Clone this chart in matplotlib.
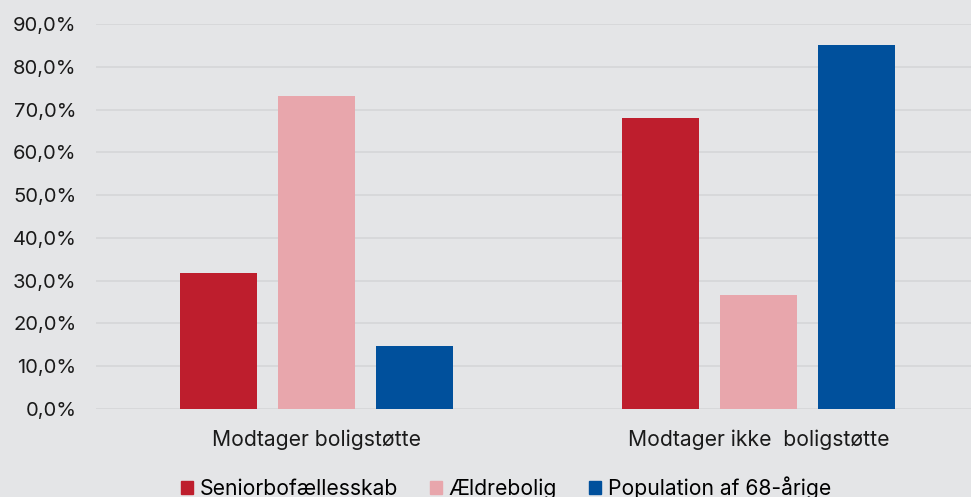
import numpy as np
import matplotlib
matplotlib.use("Agg")
import matplotlib.pyplot as plt
from matplotlib.ticker import FuncFormatter
from matplotlib.patches import Patch

categories = ["Modtager boligstøtte", "Modtager ikke  boligstøtte"]
series_names = ["Seniorbofællesskab", "Ældrebolig", "Population af 68-årige"]
senior = [31.8, 68.1]
aeldre = [73.1, 26.7]
population = [14.7, 85.2]
colors = ["#be1e2d", "#e8a6ac", "#00509c"]

plt.rcParams['font.family'] = ['Inter', 'DejaVu Sans']
bg = "#e4e5e7"

fig = plt.figure(figsize=(9.71, 4.97), dpi=100, facecolor=bg)
ax = fig.add_axes([96/971, 88/497, 883/971, 385/497], facecolor=bg)

x = np.arange(len(categories))
step = 0.222
width = 0.175
for i, (vals, c) in enumerate(zip([senior, aeldre, population], colors)):
    ax.bar(x + (i - 1)*step, vals, width=width, color=c, zorder=3)

ax.set_xlim(-0.5, 1.5)
ax.set_ylim(0, 90)
ax.set_yticks(np.arange(0, 91, 10))
ax.yaxis.set_major_formatter(FuncFormatter(lambda v, p: f"{v:.1f}%".replace(".", ",")))
ax.grid(axis='y', color="#d6d7d9", linewidth=1.3, zorder=0)
ax.set_xticks(x)
ax.set_xticklabels(categories)
for s in ax.spines.values():
    s.set_visible(False)
ax.tick_params(axis='y', length=0, pad=14, labelsize=14.5, labelcolor="#1a1a1a")
ax.tick_params(axis='x', length=0, pad=15, labelsize=15.2, labelcolor="#1a1a1a")

handles = [Patch(color=c) for c in colors]
fig.legend(handles, series_names, loc='lower center', bbox_to_anchor=(0.521, -0.042),
           ncol=3, frameon=False, fontsize=15.2, handlelength=0.6, handleheight=0.6,
           handletextpad=0.3, columnspacing=1.5)

fig.savefig("out.png", dpi=100, facecolor=bg)
